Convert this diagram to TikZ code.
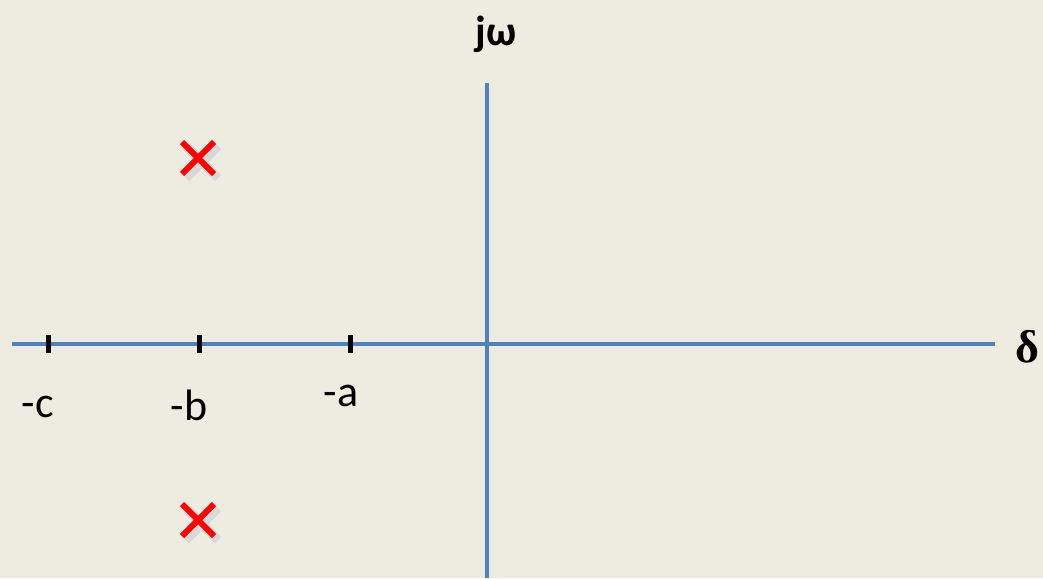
\documentclass[tikz,border=0pt]{standalone}
\usepackage{fontspec}
\setmainfont{Carlito}
\newfontfamily\serifbold{Liberation Serif}
\definecolor{bgcol}{HTML}{EEEBE1}
\definecolor{axiscol}{HTML}{4F81BD}
\definecolor{polecol}{HTML}{FF0000}
\tikzset{
  axisline/.style={draw=axiscol, line width=4pt},
  tickmark/.style={draw=black, line width=5pt},
  polemark/.style={draw=polecol, line width=6pt},
  poleshadow/.style={draw=black!15, line width=9pt},
  ticklabel/.style={font=\fontsize{44}{50}\selectfont, inner sep=0pt},
}
\begin{document}
\begin{tikzpicture}[x=1pt, y=-1pt]
  % background
  \fill[bgcol] (0,0) rectangle (1043,578);
  \useasboundingbox (0,0) rectangle (1043,578);
  % axes
  \coordinate (xl) at (12,344);
  \coordinate (xr) at (995,344);
  \coordinate (yt) at (487,83);
  \coordinate (yb) at (487,578);
  \draw[axisline] (xl) -- (xr);
  \draw[axisline] (yt) -- (yb);
  \node[font=\fontsize{42}{48}\selectfont\bfseries, inner sep=0pt] (jw) at (496,34) {jω};
  \node[font=\fontsize{46}{52}\selectfont\serifbold\bfseries, inner sep=0pt] (delta) at (1027,347) {δ};
  % ticks on the real axis
  \foreach \nm/\xx in {c/48, b/199, a/350} {
    \coordinate (t\nm u) at (\xx,335);
    \coordinate (t\nm d) at (\xx,353);
    \draw[tickmark] (t\nm u) -- (t\nm d);
  }
  \node[ticklabel] (lc) at (38,407) {-c};
  \node[ticklabel] (lb) at (189,405) {-b};
  \node[ticklabel] (la) at (341,396) {-a};
  % poles
  \foreach \nm/\yy in {up/158, dn/520} {
    \draw[poleshadow] (186,\yy-12) -- (218,\yy+20);
    \draw[poleshadow] (218,\yy-12) -- (186,\yy+20);
    \coordinate (p\nm a) at (182,\yy-16);
    \coordinate (p\nm b) at (214,\yy+16);
    \coordinate (p\nm c) at (214,\yy-16);
    \coordinate (p\nm d) at (182,\yy+16);
    \draw[polemark] (p\nm a) -- (p\nm b);
    \draw[polemark] (p\nm c) -- (p\nm d);
  }
\end{tikzpicture}
\end{document}
